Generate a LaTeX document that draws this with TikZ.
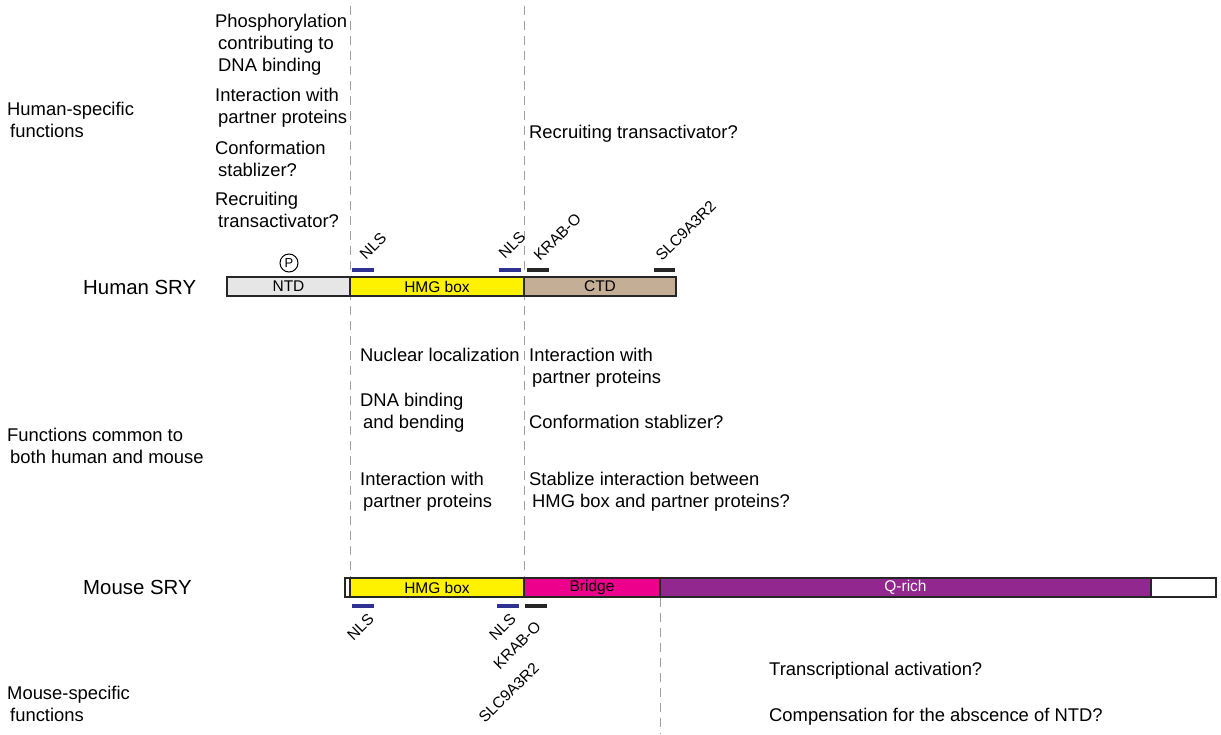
\documentclass[tikz,border=0pt]{standalone}
\usepackage{fontspec}
\setmainfont{Liberation Sans}
\usepackage{tikz}
\usetikzlibrary{positioning}

\definecolor{ntdgray}{HTML}{E6E6E6}
\definecolor{hmgyellow}{HTML}{FFF200}
\definecolor{ctdtan}{HTML}{C4AE96}
\definecolor{bridgepink}{HTML}{EC008C}
\definecolor{qpurple}{HTML}{92278F}
\definecolor{nlsblue}{HTML}{2E3192}
\definecolor{guidegray}{HTML}{A0A0A0}

\tikzset{
  seg/.style={draw=black!85, line width=2.2pt, minimum height=19pt, inner sep=0pt, outer sep=0pt, font=\fontsize{15.5}{15.5}\selectfont},
  txt/.style={anchor=north west, align=left, inner sep=0pt, font=\fontsize{18.4}{22}\selectfont},
  tag/.style={rotate=45, inner sep=0pt, font=\fontsize{15.5}{15.5}\selectfont},
  guide/.style={guidegray, line width=1pt, dash pattern=on 9pt off 6pt},
  nlsbar/.style={nlsblue, line width=4pt},
  sitebar/.style={black!85, line width=4pt}
}

\begin{document}
\begin{tikzpicture}[x=1pt,y=-1pt]
        \useasboundingbox (0,0) rectangle (1221,734);
        % guide lines
        \draw[guide] (350,6) -- (350,578);
        \draw[guide] (524,6) -- (524,578);
        \draw[guide] (660,598) -- (660,734);
        % human SRY
        \node[seg, fill=ntdgray, minimum width=123pt, anchor=north west] (hntd) at (227,277) {NTD};
        \node[seg, fill=hmgyellow, minimum width=174pt, right=0pt of hntd] (hhmg) {HMG box};
        \node[seg, fill=ctdtan, minimum width=152pt, right=0pt of hhmg] (hctd) {CTD};
        \node[draw, circle, minimum size=18pt, inner sep=0pt, line width=1pt, font=\fontsize{13}{13}\selectfont] (phos) at (289,263) {P};
        \draw[nlsbar] (352,270) -- (374,270);
        \draw[nlsbar] (499,270) -- (521,270);
        \draw[sitebar] (527,270) -- (549,270);
        \draw[sitebar] (654,270) -- (675,270);
        \node[tag, anchor=base west] (hnlsa) at (366,261) {NLS};
        \node[tag, anchor=base west] (hnlsb) at (505,260) {NLS};
        \node[tag, anchor=base west] (hkrab) at (540,262) {KRAB-O};
        \node[tag, anchor=base west] (hslc) at (662,262) {SLC9A3R2};
        % mouse SRY
        \node[seg, fill=white, minimum width=5pt, anchor=north west] (mstub) at (345,578) {};
        \node[seg, fill=hmgyellow, minimum width=174pt, right=0pt of mstub] (mhmg) {HMG box};
        \node[seg, fill=bridgepink, minimum width=136pt, right=0pt of mhmg] (mbridge) {Bridge};
        \node[seg, fill=qpurple, text=white, minimum width=491pt, right=0pt of mbridge] (mqrich) {Q-rich};
        \node[seg, fill=white, minimum width=65pt, right=0pt of mqrich] (mtail) {};
        \draw[nlsbar] (352,606) -- (374,606);
        \draw[nlsbar] (497,606) -- (519,606);
        \draw[sitebar] (525,606) -- (547,606);
        \node[tag, anchor=base east] (mnlsa) at (375,620) {NLS};
        \node[tag, anchor=base east] (mnlsb) at (517,620) {NLS};
        \node[tag, anchor=base east] (mkrab) at (542,628) {KRAB-O};
        \node[tag, anchor=base east] (mslc) at (540,669) {SLC9A3R2};
        % row labels
        \node[txt] (hspec) at (7,102) {Human-specific\\\hspace{3pt}functions};
        \node[txt, font=\fontsize{20.4}{22}\selectfont] (hname) at (83,280) {Human SRY};
        \node[txt] (common) at (7,428) {Functions common to\\\hspace{3pt}both human and mouse};
        \node[txt, font=\fontsize{20.4}{22}\selectfont] (mname) at (83,580) {Mouse SRY};
        \node[txt] (mspec) at (7,686) {Mouse-specific\\\hspace{3pt}functions};
        % human-specific functions
        \node[txt] (phosf) at (215,14) {Phosphorylation\\\hspace{3pt}contributing to\\\hspace{3pt}DNA binding};
        \node[txt] (hpart) at (215,88) {Interaction with\\\hspace{3pt}partner proteins};
        \node[txt] (hconf) at (215,141) {Conformation\\\hspace{3pt}stablizer?};
        \node[txt] (hrecr) at (215,192) {Recruiting\\\hspace{3pt}transactivator?};
        \node[txt] (crecr) at (529,125) {Recruiting transactivator?};
        % common functions
        \node[txt] (nucl) at (360,348) {Nuclear localization};
        \node[txt] (dnab) at (360,393) {DNA binding\\\hspace{3pt}and bending};
        \node[txt] (cpart) at (360,472) {Interaction with\\\hspace{3pt}partner proteins};
        \node[txt] (cpartb) at (529,348) {Interaction with\\\hspace{3pt}partner proteins};
        \node[txt] (cconf) at (529,415) {Conformation stablizer?};
        \node[txt] (cstab) at (529,472) {Stablize interaction between\\\hspace{3pt}HMG box and partner proteins?};
        % mouse-specific functions
        \node[txt] (mtrans) at (769,662) {Transcriptional activation?};
        \node[txt] (mcomp) at (769,708) {Compensation for the abscence of NTD?};
    \end{tikzpicture}
\end{document}
